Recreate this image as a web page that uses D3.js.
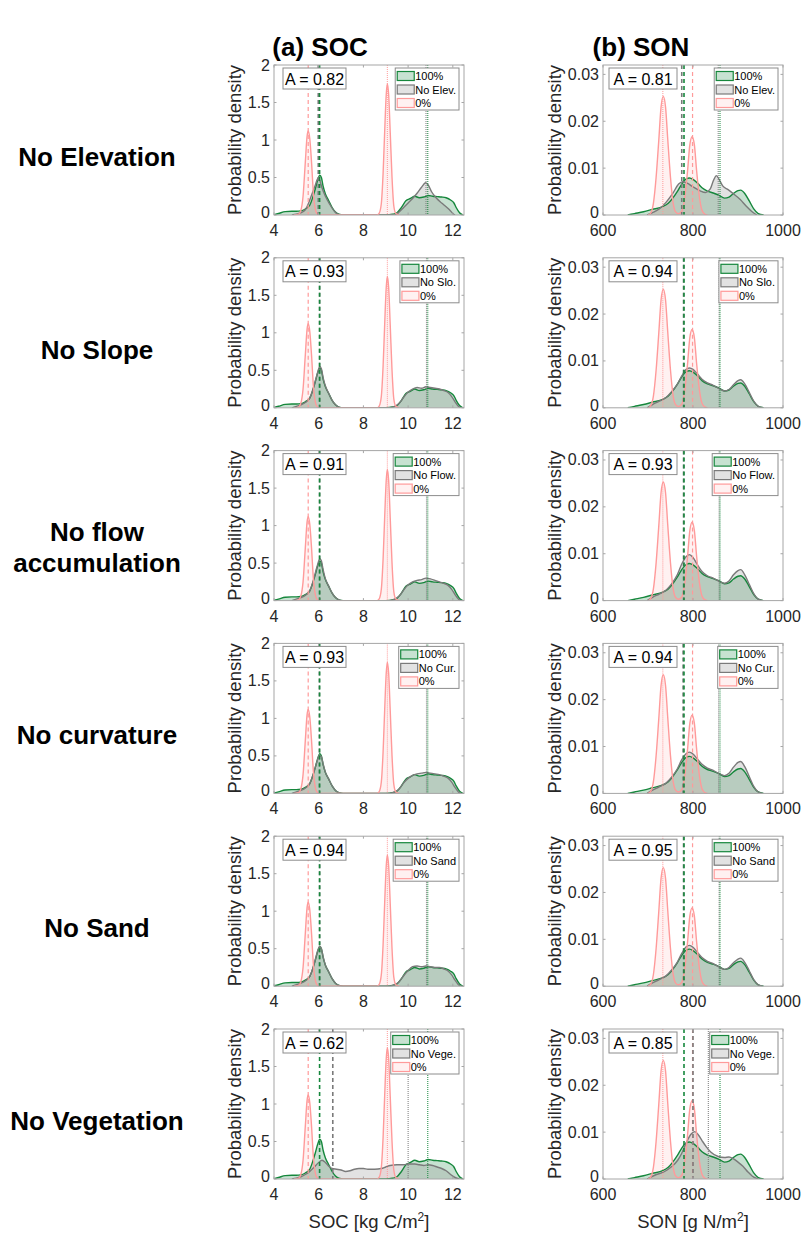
<!DOCTYPE html>
<html><head><meta charset="utf-8">
<script src="https://cdn.jsdelivr.net/npm/d3@7/dist/d3.min.js"></script>
<style>
body{margin:0;background:#fff;}
svg{display:block;font-family:"Liberation Sans",Arial,sans-serif;}
</style></head>
<body><svg id="c" width="803" height="1235"></svg>
<script>
// ---------------- DATA ----------------
const rowLabels = [["No Elevation"],["No Slope"],["No flow","accumulation"],["No curvature"],["No Sand"],["No Vegetation"]];
const legendLabels = ["No Elev.","No Slo.","No Flow.","No Cur.","No Sand","No Vege."];
const legendRef = ["100%","0%"];
const aSOC = [0.82,0.93,0.91,0.93,0.94,0.62];
const aSON = [0.81,0.94,0.93,0.94,0.95,0.85];
const socTicksX = [4,6,8,10,12];
const socTicksY = [0,0.5,1,1.5,2];
const sonTicksX = [600,800,1000];
const sonTicksY = [0,0.01,0.02,0.03];

// SOC densities [x, density]
const socFull = [[4.0,0.005],[4.2,0.02],[4.5,0.045],[4.8,0.05],[5.0,0.05],[5.2,0.055],[5.4,0.08],[5.6,0.13],[5.75,0.25],[5.85,0.35],[5.95,0.46],[6.05,0.53],[6.12,0.5],[6.2,0.38],[6.3,0.28],[6.45,0.19],[6.6,0.1],[6.75,0.04],[6.9,0.01],[7.1,0],[9.0,0],[9.3,0.01],[9.5,0.03],[9.7,0.1],[9.9,0.19],[10.1,0.22],[10.3,0.25],[10.5,0.23],[10.7,0.24],[10.9,0.26],[11.1,0.25],[11.3,0.245],[11.5,0.24],[11.7,0.23],[11.9,0.2],[12.05,0.16],[12.15,0.1],[12.3,0.03],[12.45,0]];
const socZero = [[4.9,0],[5.1,0.01],[5.2,0.06],[5.3,0.25],[5.4,0.7],[5.48,1.05],[5.53,1.12],[5.6,1.02],[5.68,0.7],[5.76,0.3],[5.85,0.08],[5.95,0.01],[6.1,0],[8.6,0],[8.7,0.02],[8.8,0.15],[8.88,0.55],[8.95,1.1],[9.02,1.6],[9.07,1.75],[9.13,1.6],[9.2,1.1],[9.28,0.5],[9.36,0.12],[9.45,0.02],[9.6,0]];
const socNoElev = [[4.8,0],[5.0,0.01],[5.2,0.03],[5.4,0.07],[5.55,0.16],[5.7,0.28],[5.85,0.4],[5.97,0.49],[6.05,0.46],[6.15,0.36],[6.3,0.25],[6.5,0.14],[6.7,0.05],[6.85,0.01],[7.0,0],[9.4,0],[9.6,0.04],[9.8,0.1],[10.0,0.16],[10.2,0.22],[10.4,0.29],[10.6,0.37],[10.78,0.43],[10.9,0.4],[11.05,0.31],[11.25,0.23],[11.5,0.16],[11.7,0.11],[11.85,0.07],[12.0,0.02],[12.1,0]];
const socNoSlo = [[4.8,0],[5.0,0.02],[5.2,0.04],[5.4,0.07],[5.6,0.13],[5.75,0.25],[5.85,0.36],[5.95,0.47],[6.05,0.55],[6.12,0.52],[6.2,0.4],[6.3,0.29],[6.45,0.19],[6.6,0.1],[6.75,0.04],[6.9,0.01],[7.05,0],[9.2,0],[9.4,0.02],[9.6,0.06],[9.8,0.14],[10.0,0.21],[10.2,0.25],[10.4,0.27],[10.6,0.26],[10.8,0.28],[11.0,0.27],[11.2,0.26],[11.4,0.25],[11.6,0.23],[11.8,0.2],[11.95,0.15],[12.1,0.08],[12.25,0.02],[12.35,0]];
const socNoFlow = [[4.8,0],[5.0,0.02],[5.2,0.04],[5.4,0.07],[5.6,0.13],[5.75,0.26],[5.85,0.37],[5.95,0.48],[6.05,0.56],[6.12,0.53],[6.2,0.41],[6.3,0.29],[6.45,0.19],[6.6,0.1],[6.75,0.04],[6.9,0.01],[7.05,0],[9.2,0],[9.4,0.02],[9.6,0.06],[9.8,0.14],[10.0,0.21],[10.2,0.25],[10.4,0.27],[10.6,0.28],[10.8,0.3],[11.0,0.29],[11.2,0.27],[11.4,0.25],[11.6,0.23],[11.8,0.2],[11.95,0.15],[12.1,0.08],[12.25,0.02],[12.35,0]];
const socNoCur = [[4.8,0],[5.0,0.02],[5.2,0.04],[5.4,0.07],[5.6,0.13],[5.75,0.25],[5.85,0.35],[5.95,0.45],[6.03,0.51],[6.12,0.49],[6.2,0.39],[6.3,0.28],[6.45,0.19],[6.6,0.1],[6.75,0.04],[6.9,0.01],[7.05,0],[9.2,0],[9.4,0.02],[9.6,0.06],[9.8,0.14],[10.0,0.2],[10.2,0.24],[10.4,0.26],[10.6,0.27],[10.8,0.28],[11.0,0.27],[11.2,0.26],[11.4,0.25],[11.6,0.23],[11.8,0.2],[11.95,0.15],[12.1,0.08],[12.25,0.02],[12.35,0]];
const socNoSand = [[4.8,0],[5.0,0.02],[5.2,0.04],[5.4,0.07],[5.6,0.13],[5.75,0.25],[5.85,0.36],[5.95,0.47],[6.05,0.53],[6.12,0.5],[6.2,0.39],[6.3,0.28],[6.45,0.19],[6.6,0.1],[6.75,0.04],[6.9,0.01],[7.05,0],[9.2,0],[9.4,0.02],[9.6,0.06],[9.8,0.14],[10.0,0.21],[10.2,0.26],[10.4,0.27],[10.6,0.26],[10.8,0.27],[11.0,0.26],[11.2,0.25],[11.4,0.25],[11.6,0.23],[11.8,0.2],[11.95,0.15],[12.1,0.08],[12.25,0.02],[12.35,0]];
const socNoVege = [[4.8,0],[5.0,0.01],[5.2,0.03],[5.4,0.06],[5.6,0.1],[5.8,0.16],[6.0,0.22],[6.15,0.25],[6.3,0.22],[6.45,0.17],[6.6,0.14],[6.8,0.13],[7.0,0.12],[7.2,0.1],[7.4,0.11],[7.6,0.13],[7.8,0.14],[8.0,0.14],[8.2,0.13],[8.5,0.13],[8.8,0.14],[9.0,0.16],[9.2,0.18],[9.5,0.19],[9.8,0.19],[10.0,0.2],[10.3,0.2],[10.5,0.19],[10.7,0.18],[10.9,0.19],[11.1,0.18],[11.3,0.16],[11.5,0.14],[11.7,0.11],[11.9,0.06],[12.1,0.02],[12.3,0]];

// SON densities [x, density]
const sonFull = [[655,0],[670,0.0003],[690,0.0007],[710,0.0012],[730,0.0017],[745,0.0025],[755,0.0036],[765,0.005],[775,0.0066],[785,0.0077],[792,0.0079],[800,0.0076],[810,0.0068],[820,0.0058],[832,0.0051],[845,0.0047],[858,0.0042],[870,0.0036],[880,0.0038],[890,0.0046],[900,0.0052],[906,0.0053],[915,0.0046],[925,0.003],[935,0.0013],[945,0.0003],[957,0]];
const sonZero = [[700,0],[705,0.0003],[712,0.0025],[718,0.008],[724,0.016],[729,0.023],[734,0.0253],[739,0.023],[744,0.016],[750,0.008],[756,0.0025],[762,0.0006],[768,0.0003],[775,0.0008],[782,0.004],[788,0.0095],[793,0.015],[798,0.0167],[803,0.015],[808,0.0095],[814,0.004],[820,0.001],[826,0.0002],[832,0]];
const sonNoElev = [[698,0],[710,0.0005],[725,0.0013],[740,0.0027],[755,0.0046],[768,0.0066],[777,0.0071],[787,0.0068],[800,0.006],[815,0.0052],[828,0.0048],[838,0.0055],[846,0.0075],[852,0.0084],[858,0.0076],[866,0.0062],[878,0.0054],[890,0.0045],[905,0.0033],[918,0.0019],[930,0.0008],[942,0]];
const sonNoSlo = [[698,0],[710,0.0007],[725,0.0014],[740,0.0022],[752,0.0034],[765,0.005],[775,0.0068],[785,0.0082],[792,0.0085],[800,0.0082],[810,0.0072],[820,0.0061],[832,0.0053],[845,0.0048],[858,0.0041],[870,0.0036],[880,0.0039],[890,0.0049],[900,0.0058],[906,0.006],[915,0.0051],[925,0.0033],[935,0.0014],[945,0.0003],[955,0]];
const sonNoFlow = [[698,0],[710,0.0007],[725,0.0014],[740,0.0022],[752,0.0035],[765,0.0055],[775,0.0078],[785,0.0094],[792,0.0098],[800,0.0092],[810,0.0076],[820,0.0062],[832,0.0053],[845,0.0048],[858,0.0041],[870,0.0037],[880,0.0042],[890,0.0055],[900,0.0064],[906,0.0066],[915,0.0055],[925,0.0035],[935,0.0015],[945,0.0003],[955,0]];
const sonNoCur = [[698,0],[710,0.0007],[725,0.0014],[740,0.0022],[752,0.0034],[765,0.0052],[775,0.0072],[785,0.0085],[792,0.0088],[800,0.0084],[810,0.0073],[820,0.0062],[832,0.0054],[845,0.0049],[858,0.0042],[870,0.0038],[880,0.0043],[890,0.0056],[900,0.0066],[906,0.0068],[915,0.0057],[925,0.0036],[935,0.0015],[945,0.0003],[955,0]];
const sonNoSand = [[698,0],[710,0.0007],[725,0.0014],[740,0.0022],[752,0.0034],[765,0.0051],[775,0.007],[785,0.0084],[792,0.0087],[800,0.0083],[810,0.0072],[820,0.0061],[832,0.0053],[845,0.0048],[858,0.0041],[870,0.0036],[880,0.004],[890,0.005],[900,0.0058],[906,0.006],[915,0.0051],[925,0.0033],[935,0.0014],[945,0.0003],[955,0]];
const sonNoVege = [[698,0],[715,0.0008],[737,0.0016],[752,0.0026],[766,0.004],[775,0.0055],[785,0.0077],[795,0.0095],[804,0.0101],[812,0.0094],[820,0.0082],[830,0.0068],[840,0.0057],[856,0.0048],[870,0.0046],[880,0.0047],[890,0.0043],[900,0.0036],[911,0.0027],[922,0.0015],[932,0.0006],[945,0]];

const socGray = [socNoElev, socNoSlo, socNoFlow, socNoCur, socNoSand, socNoVege];
const sonGray = [sonNoElev, sonNoSlo, sonNoFlow, sonNoCur, sonNoSand, sonNoVege];

// reference vertical markers (dashed / dotted)
const socFullDash = 6.04, socFullDot = 10.88, socZeroDash = 5.53, socZeroDot = 9.07;
const socGrayDash = [5.98, 6.04, 6.04, 6.03, 6.04, 6.63];
const socGrayDot  = [10.8, 10.82, 10.82, 10.82, 10.82, 10.0];
const sonFullDash = 780, sonFullDot = 860, sonZeroDash = 799, sonZeroDot = 733;
const sonGrayDash = [775, 779, 779, 778, 779, 800];
const sonGrayDot  = [856, 858, 858, 857, 858, 834];

// ---------------- LAYOUT ----------------
const svg = d3.select("#c");
const C = {
  green:"#16873c", greenFill:"#1f8c46",
  gray:"#7a7a7a", grayFill:"#8a8a8a",
  pink:"#ff9a9a", pinkFill:"#ff8a8a",
  axis:"#a6a6a6", text:"#262626"
};
const rowTop = i => 65 + i*192.8;
const PH = 150;
const cols = [
  {left:274, width:190, domain:[4,12.5], ymax:2, xt:socTicksX, yt:socTicksY, yfmt:d=>String(d),
   full:socFull, zero:socZero, gray:socGray, A:aSOC, fd:socFullDash, fo:socFullDot, zd:socZeroDash, zo:socZeroDot, gd:socGrayDash, go:socGrayDot,
   aBox:{dx:9,w:63}, xlabel:"SOC [kg C/m", ylabX:241, title:"(a) SOC", titleX:320},
  {left:603, width:180, domain:[600,1000], ymax:0.032, xt:sonTicksX, yt:sonTicksY, yfmt:d=>d===0?"0":d3.format(".2f")(d),
   full:sonFull, zero:sonZero, gray:sonGray, A:aSON, fd:sonFullDash, fo:sonFullDot, zd:sonZeroDash, zo:sonZeroDot, gd:sonGrayDash, go:sonGrayDot,
   aBox:{dx:6,w:68}, xlabel:"SON [g N/m", ylabX:561, title:"(b) SON", titleX:641}
];

// column titles
cols.forEach(c=>{
  svg.append("text").attr("x",c.titleX).attr("y",56).attr("text-anchor","middle")
    .attr("font-size",26).attr("font-weight","bold").attr("fill","#000").text(c.title);
});

// row labels
rowLabels.forEach((lines,i)=>{
  const n = lines.length;
  const center = rowTop(i) + PH/2 + (n===1 ? 17 : 22);
  lines.forEach((s,k)=>{
    svg.append("text").attr("x",97).attr("y", center + (k-(n-1)/2)*31 + 9)
      .attr("text-anchor","middle").attr("font-size",26).attr("font-weight","bold").attr("fill","#000").text(s);
  });
});

cols.forEach((c,ci)=>{
  for(let r=0;r<6;r++){
    const top = rowTop(r);
    const x = d3.scaleLinear().domain(c.domain).range([c.left, c.left+c.width]);
    const y = d3.scaleLinear().domain([0,c.ymax]).range([top+PH, top]);
    const g = svg.append("g");
    const cid = `clip${ci}_${r}`;
    g.append("clipPath").attr("id",cid).append("rect")
      .attr("x",c.left).attr("y",top).attr("width",c.width).attr("height",PH);
    const pg = g.append("g").attr("clip-path",`url(#${cid})`);

    const area = d3.area().x(d=>x(d[0])).y0(y(0)).y1(d=>y(d[1])).curve(d3.curveMonotoneX);
    const line = d3.line().x(d=>x(d[0])).y(d=>y(d[1])).curve(d3.curveMonotoneX);

    const series = [
      {d:c.full, fill:C.greenFill, fo:0.25, stroke:C.green},
      {d:c.gray[r], fill:C.grayFill, fo:0.25, stroke:C.gray},
      {d:c.zero, fill:C.pinkFill, fo:0.12, stroke:C.pink}
    ];
    series.forEach(s=>{
      pg.append("path").datum(s.d).attr("d",area).attr("fill",s.fill).attr("fill-opacity",s.fo);
    });
    series.forEach(s=>{
      pg.append("path").datum(s.d).attr("d",line).attr("fill","none").attr("stroke",s.stroke).attr("stroke-width",1.4);
    });

    // vertical markers
    const vl = [
      {v:c.zd, col:C.pink, dash:"4,3", w:1.2},
      {v:c.zo, col:C.pink, dash:"1,1", w:1},
      {v:c.gd[r], col:C.gray, dash:"4,3", w:1.6},
      {v:c.fd, col:C.green, dash:"4,3", w:1.6},
      {v:c.go[r], col:C.gray, dash:"1,1", w:1},
      {v:c.fo, col:C.green, dash:"1,1", w:1}
    ];
    vl.forEach(l=>{
      pg.append("line").attr("x1",x(l.v)).attr("x2",x(l.v)).attr("y1",top).attr("y2",top+PH)
        .attr("stroke",l.col).attr("stroke-width",l.w).attr("stroke-dasharray",l.dash);
    });

    // axes frame
    g.append("rect").attr("x",c.left).attr("y",top).attr("width",c.width).attr("height",PH)
      .attr("fill","none").attr("stroke",C.axis).attr("stroke-width",1);
    const tl = 2.5;
    c.xt.forEach(t=>{
      const xx = x(t);
      g.append("line").attr("x1",xx).attr("x2",xx).attr("y1",top+PH).attr("y2",top+PH-tl).attr("stroke",C.axis);
      g.append("line").attr("x1",xx).attr("x2",xx).attr("y1",top).attr("y2",top+tl).attr("stroke",C.axis);
      g.append("text").attr("x",xx).attr("y",top+PH+21).attr("text-anchor","middle")
        .attr("font-size",16).attr("fill",C.text).text(t);
    });
    c.yt.forEach(t=>{
      const yy = y(t);
      g.append("line").attr("x1",c.left).attr("x2",c.left+tl).attr("y1",yy).attr("y2",yy).attr("stroke",C.axis);
      g.append("line").attr("x1",c.left+c.width).attr("x2",c.left+c.width-tl).attr("y1",yy).attr("y2",yy).attr("stroke",C.axis);
      g.append("text").attr("x",c.left-4).attr("y",yy + (t===0 ? 3 : 5.5)).attr("text-anchor","end")
        .attr("font-size",16).attr("fill",C.text).text(c.yfmt(t));
    });
    g.append("text").attr("transform",`translate(${c.ylabX},${top+PH/2}) rotate(-90)`)
      .attr("text-anchor","middle").attr("font-size",18.5).attr("fill",C.text).text("Probability density");

    // A box
    const ab = g.append("g");
    ab.append("rect").attr("x",c.left+c.aBox.dx).attr("y",top+3).attr("width",c.aBox.w).attr("height",21)
      .attr("fill","#fff").attr("stroke","#8c8c8c").attr("stroke-width",1);
    ab.append("text").attr("x",c.left+c.aBox.dx+c.aBox.w/2).attr("y",top+19.5).attr("text-anchor","middle")
      .attr("font-size",16).attr("fill","#000").text("A = " + c.A[r].toFixed(2));

    // legend
    const labels = [legendRef[0], legendLabels[r], legendRef[1]];
    const lg = g.append("g");
    const ly = top+3;
    const tmp = lg.append("text").attr("font-size",11).text(legendLabels[r]);
    const tw = Math.max(tmp.node().getComputedTextLength(), 30);
    tmp.remove();
    const lw = 23 + tw;
    const lx0 = c.left+c.width-5-lw;
    lg.append("rect").attr("x",lx0).attr("y",ly).attr("width",lw).attr("height",42)
      .attr("fill","#fff").attr("stroke","#8c8c8c").attr("stroke-width",1);
    const sw = [
      {fill:C.greenFill, fo:0.25, stroke:C.green},
      {fill:C.grayFill, fo:0.25, stroke:C.gray},
      {fill:C.pinkFill, fo:0.12, stroke:C.pink}
    ];
    labels.forEach((s,k)=>{
      const cy = ly + 8 + k*13.5;
      lg.append("rect").attr("x",lx0+2).attr("y",cy-4.5).attr("width",17).attr("height",9)
        .attr("fill",sw[k].fill).attr("fill-opacity",sw[k].fo).attr("stroke",sw[k].stroke).attr("stroke-width",1.2);
      lg.append("text").attr("x",lx0+20).attr("y",cy+4).attr("font-size",11).attr("fill","#000").text(s);
    });

    if(r===5){
      const t = svg.append("text").attr("x",c.left+c.width/2).attr("y",top+PH+49).attr("text-anchor","middle")
        .attr("font-size",18.5).attr("fill",C.text);
      t.append("tspan").text(c.xlabel);
      t.append("tspan").attr("dy",-7).attr("font-size",12).text("2");
      t.append("tspan").attr("dy",7).text("]");
    }
  }
});
</script></body></html>
